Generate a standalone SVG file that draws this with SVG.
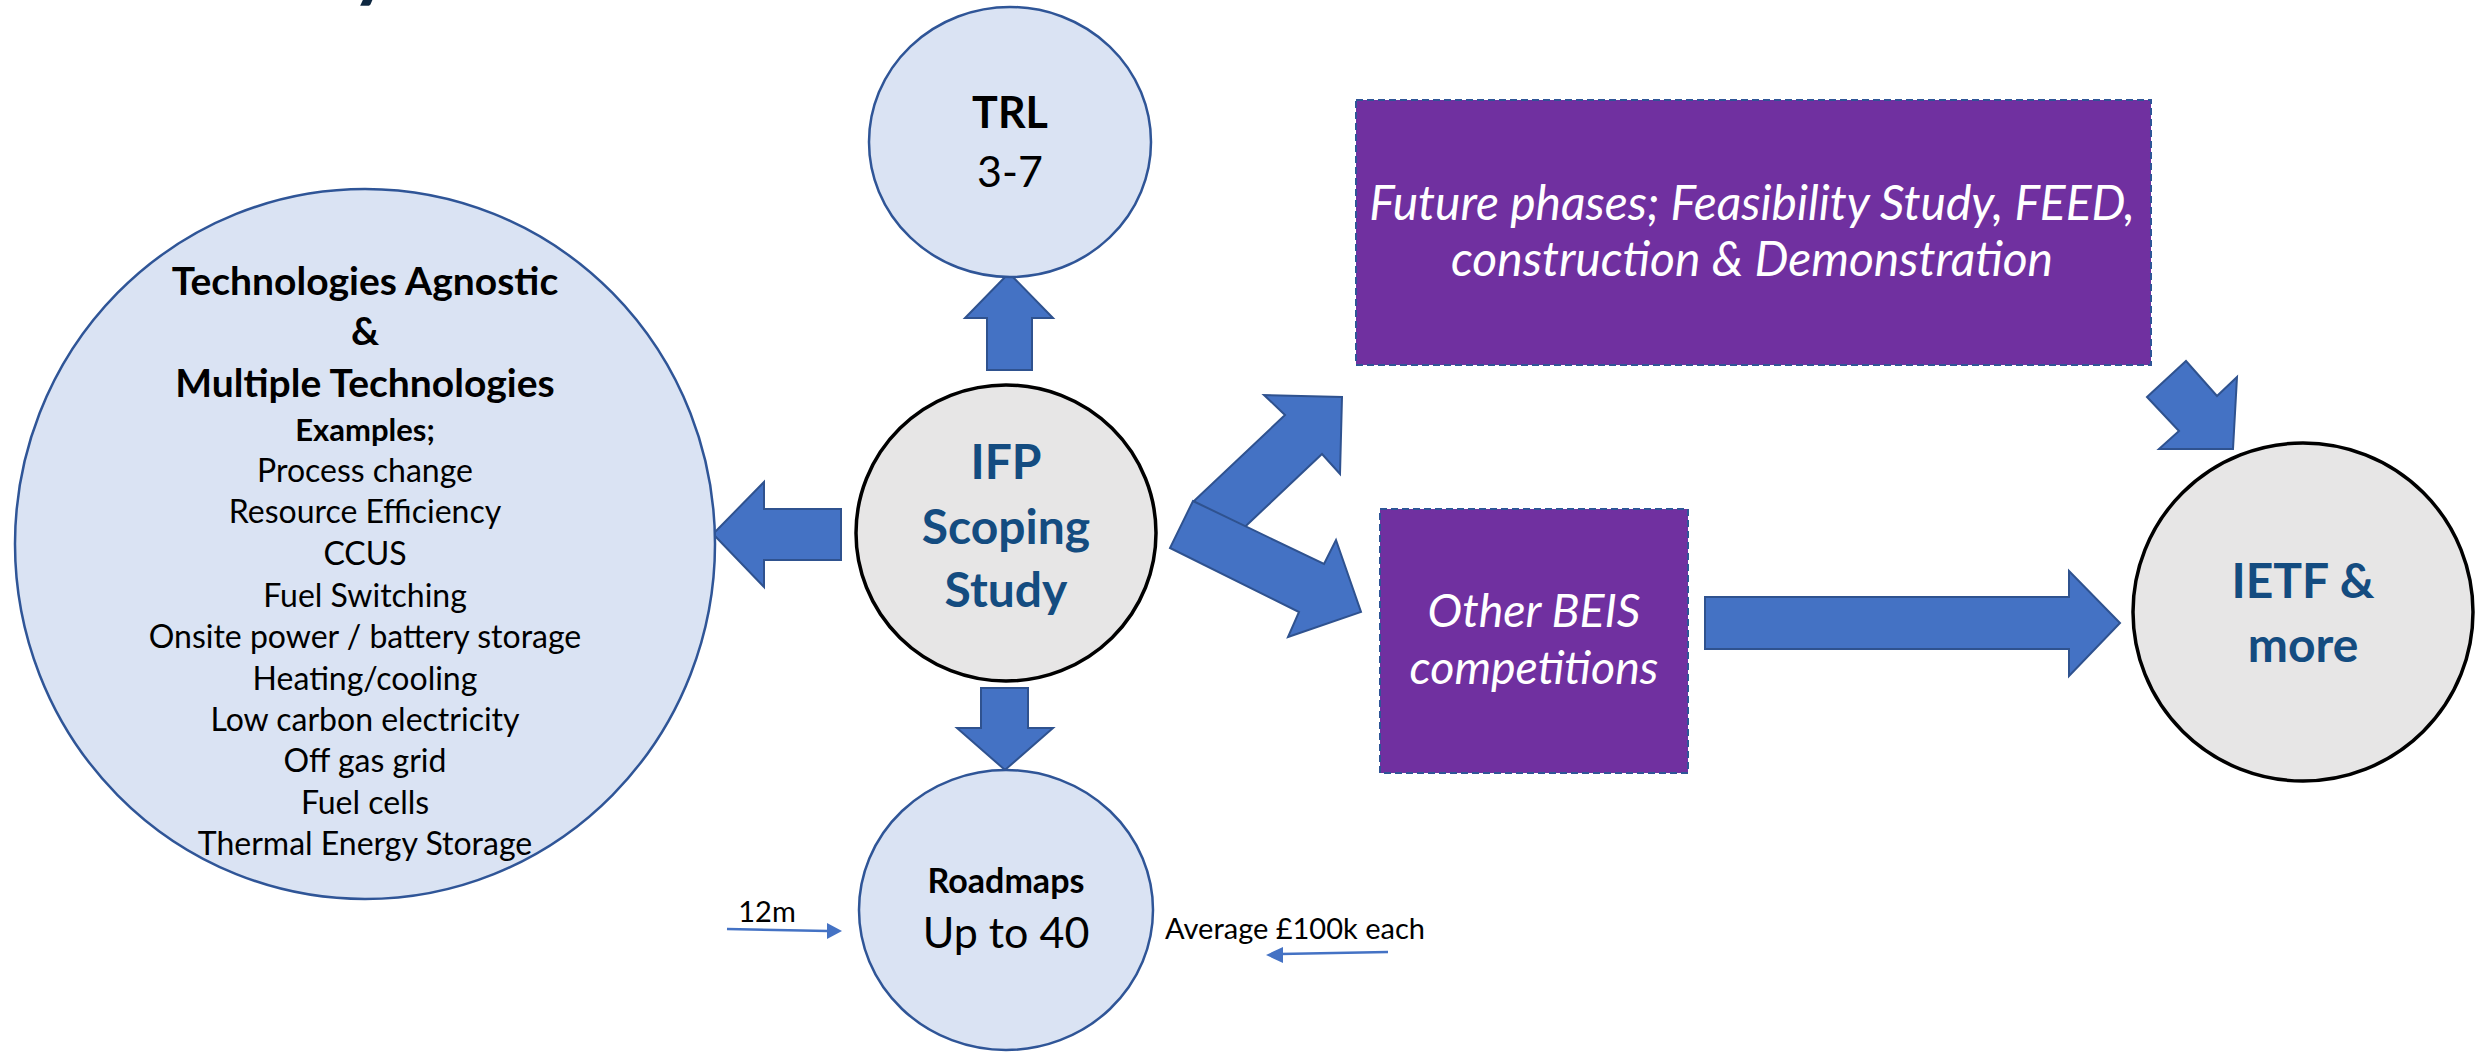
<svg xmlns="http://www.w3.org/2000/svg" width="2478" height="1052" viewBox="0 0 2478 1052">
<style>
.bg{fill:#ffffff}
.blue{fill:#DAE3F3;stroke:#2F5597;stroke-width:2.5}
.grey{fill:#E7E6E6;stroke:#000000;stroke-width:3.5}
.purple{fill:#7030A0;stroke:#2F5597;stroke-width:2;stroke-dasharray:7 4}
.arrow{fill:#4472C4;stroke:#2F528F;stroke-width:2;stroke-linejoin:miter}
.thin{stroke:#4472C4;stroke-width:2.5;fill:none}
.head{fill:#4472C4}
text{font-family:Lato,"Open Sans","Liberation Sans",sans-serif;text-anchor:middle}
.k{fill:#000000}
.b{font-weight:bold}
.nv{fill:#144C80;font-weight:bold}
.w{fill:#ffffff;font-style:italic}
.list{font-size:32px;fill:#000}
</style>
<rect class="bg" x="0" y="0" width="2478" height="1052"/>
<text x="372" y="-8" style="font-size:80px;font-weight:bold;fill:#0E2841;text-anchor:middle">y</text>

<g id="connectors">
  <polygon class="arrow" points="1009,273 1053,318 1032,318 1032,370 987,370 987,318 965,318"/>
  <polygon class="arrow" points="981,688 1028,688 1028,728 1053,728 1005,770 957,728 981,728"/>
  <polygon class="arrow" points="841,509 764,509 764,482 713,534 764,587 764,560 841,560"/>
  <polygon class="arrow" points="1194,501 1285,415 1264,395 1342,397 1340,474 1322,454 1231,540"/>
  <polygon class="arrow" points="1193,501 1324,564 1336,540 1361,612 1288,637 1299,612 1170,548"/>
  <polygon class="arrow" points="2147,397 2186,361 2217,396 2237,377 2233,449 2159,449 2179,431"/>
  <polygon class="arrow" points="1705,597 2069,597 2069,571 2120,623 2069,676 2069,649 1705,649"/>
  <line class="thin" x1="727" y1="929" x2="828" y2="931"/>
  <polygon class="head" points="842,931 827,923 827,939"/>
  <line class="thin" x1="1388" y1="952" x2="1280" y2="954"/>
  <polygon class="head" points="1266,955 1283,947 1283,963"/>
</g>

<g id="node-tech">
  <ellipse class="blue" cx="365" cy="544" rx="350" ry="355"/>
  <text class="k b" x="365" y="295" style="font-size:39px">Technologies Agnostic</text>
  <text class="k b" x="365" y="345" style="font-size:39px">&amp;</text>
  <text class="k b" x="365" y="397" style="font-size:39px">Multiple Technologies</text>
  <text class="k b" x="365" y="441" style="font-size:31px">Examples;</text>
  <text class="list" x="365" y="482">Process change</text>
  <text class="list" x="365" y="523">Resource Efficiency</text>
  <text class="list" x="365" y="565">CCUS</text>
  <text class="list" x="365" y="607">Fuel Switching</text>
  <text class="list" x="365" y="648">Onsite power / battery storage</text>
  <text class="list" x="365" y="690">Heating/cooling</text>
  <text class="list" x="365" y="731">Low carbon electricity</text>
  <text class="list" x="365" y="772">Off gas grid</text>
  <text class="list" x="365" y="814">Fuel cells</text>
  <text class="list" x="365" y="855">Thermal Energy Storage</text>
</g>

<g id="node-trl">
  <ellipse class="blue" cx="1010" cy="142" rx="141" ry="135"/>
  <text class="k b" x="1010" y="128" style="font-size:43px">TRL</text>
  <text class="k" x="1010" y="187" style="font-size:43px">3-7</text>
</g>

<g id="node-ifp">
  <ellipse class="grey" cx="1006" cy="533" rx="150" ry="148"/>
  <text class="nv" x="1006" y="479" style="font-size:48px">IFP</text>
  <text class="nv" x="1006" y="544" style="font-size:48px">Scoping</text>
  <text class="nv" x="1006" y="607" style="font-size:48px">Study</text>
</g>

<g id="node-roadmaps">
  <ellipse class="blue" cx="1006" cy="910" rx="147" ry="140"/>
  <text class="k b" x="1006" y="893" style="font-size:34px">Roadmaps</text>
  <text class="k" x="1006" y="948" style="font-size:43px">Up to 40</text>
</g>

<g id="label-12m">
  <text class="k" x="767" y="922" style="font-size:29px">12m</text>
</g>
<g id="label-average">
  <text class="k" x="1295" y="939" style="font-size:29px">Average £100k each</text>
</g>

<g id="node-future">
  <rect class="purple" x="1356" y="100" width="795" height="265"/>
  <text class="w" x="1752" y="220" style="font-size:48px">Future phases; Feasibility Study, FEED,</text>
  <text class="w" x="1752" y="276" style="font-size:48px">construction &amp; Demonstration</text>
</g>

<g id="node-beis">
  <rect class="purple" x="1380" y="509" width="308" height="264"/>
  <text class="w" x="1534" y="627" style="font-size:46.5px">Other BEIS</text>
  <text class="w" x="1534" y="684" style="font-size:46.5px">competitions</text>
</g>

<g id="node-ietf">
  <ellipse class="grey" cx="2303" cy="612" rx="170" ry="169"/>
  <text class="nv" x="2303" y="598" style="font-size:48px">IETF &amp;</text>
  <text class="nv" x="2303" y="662" style="font-size:48px">more</text>
</g>
</svg>
